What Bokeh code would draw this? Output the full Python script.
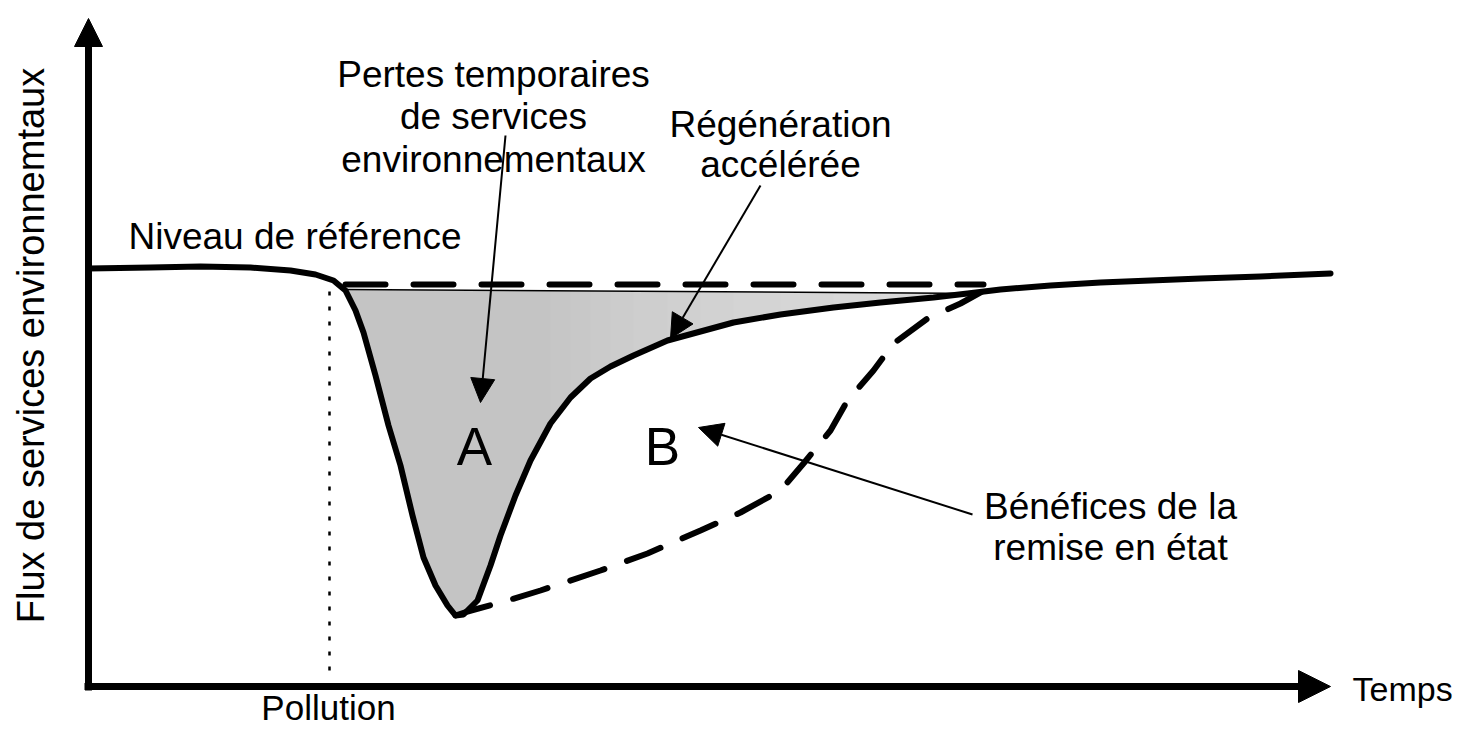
import numpy as np
from bokeh.plotting import figure
from bokeh.models import Range1d, Arrow, NormalHead, ColumnDataSource
from bokeh.core.properties import value
from bokeh.embed import file_html
from bokeh.resources import INLINE

# ---- data (time units, flow units) ----
# observed service flow (solid curve: pollution then accelerated regeneration)
flow_t = [0, 62, 112, 162, 202, 227, 245, 257, 267, 275, 287, 300, 312, 324, 335, 347,
          359, 367, 375, 389, 402, 412, 427, 442, 462, 482, 502, 522, 545, 579, 612,
          645, 692, 745, 792, 845, 879, 912, 962, 1012, 1062, 1112, 1172, 1242]
flow_v = [418, 419, 420, 419, 416, 412, 406, 396, 376, 354, 311, 261, 221, 171, 129, 101,
          81, 71, 72, 86, 121, 151, 191, 226, 263, 289, 308, 320, 331, 346, 355,
          364, 372, 379, 384, 389, 393, 397, 401, 404, 406, 408, 410, 413]

# natural recovery (dashed curve)
natural_t = [367, 379, 419, 452, 512, 559, 612, 652, 692, 715, 742, 759, 785, 805, 839, 872, 905]
natural_v = [71, 75, 86, 96, 116, 133, 156, 174, 196, 223, 256, 286, 316, 343, 368, 383, 401]

# reference level (baseline) and edge of area A
ref_t = [257, 895]
ref_v = [402, 402]
edge_v = [397, 393]

pollution_t = 241
axis_x_max = 1242
axis_y_max = 668

FONT = value("Liberation Sans")

p = figure(width=1460, height=731, x_range=Range1d(-88, 1372), y_range=Range1d(-45, 686),
           output_backend="svg", toolbar_location=None, min_border=0)
p.axis.visible = False
p.grid.visible = False
p.outline_line_color = None
p.background_fill_color = "white"

# area A (temporary losses) with a soft left-to-right shading
ft = np.array(flow_t, dtype=float)
fv = np.array(flow_v, dtype=float)


def area_poly(t_hi):
    m = (ft >= ref_t[0]) & (ft <= t_hi)
    e_hi = float(np.interp(t_hi, ref_t, edge_v))
    xs = [ref_t[0], t_hi] + list(ft[m][::-1])
    ys = [edge_v[0], e_hi] + list(fv[m][::-1])
    return xs, ys


bx, by = area_poly(ref_t[1])
p.patch(bx, by, fill_color="#dedede", line_color=None)
for t_hi in ft[(ft >= 462) & (ft <= 880)]:
    sx, sy = area_poly(float(t_hi))
    p.patch(sx, sy, fill_color="black", fill_alpha=0.008, line_color=None)
p.line(ref_t, edge_v, line_color="black", line_width=1.5)

# reference level dashed
p.line(ref_t, ref_v, line_color="black", line_width=6, line_dash="40 28", line_cap="round")

# natural recovery dashed
p.line(natural_t, natural_v, line_color="black", line_width=6, line_dash="36 24", line_cap="round")

# observed flow
p.line(flow_t, flow_v, line_color="black", line_width=6, line_join="round", line_cap="round")

# pollution marker
p.line([pollution_t, pollution_t], [16, 399], line_color="black", line_width=2.5, line_dash="4 11")

# axes with arrows
p.add_layout(Arrow(x_start=0, y_start=-4, x_end=0, y_end=axis_y_max, line_width=7,
                   end=NormalHead(size=28, fill_color="black", line_color="black")))
p.add_layout(Arrow(x_start=-4, y_start=0, x_end=axis_x_max, y_end=0, line_width=7,
                   end=NormalHead(size=32, fill_color="black", line_color="black")))

# annotation arrows
ann = [((417, 551), (392, 284)),
       ((672, 501), (582, 348)),
       ((884, 172), (610, 259))]
for (x0, y0), (x1, y1) in ann:
    p.add_layout(Arrow(x_start=x0, y_start=y0, x_end=x1, y_end=y1, line_width=2,
                       end=NormalHead(size=24, fill_color="black", line_color="black")))

# texts
labels = dict(
    x=[40, 405, 405, 405, 692, 692, 1022, 1022],
    y=[450, 612, 570, 527, 562, 522, 180, 139],
    text=["Niveau de référence", "Pertes temporaires", "de services", "environnementaux",
          "Régénération", "accélérée", "Bénéfices de la", "remise en état"],
    align=["left", "center", "center", "center", "center", "center", "center", "center"],
)
p.text(x="x", y="y", text="text", text_align="align", source=ColumnDataSource(labels),
       text_font=FONT, text_font_size="37px", text_baseline="middle", text_color="black")

p.text(x=[240], y=[-21], text=["Pollution"], text_font=FONT, text_font_size="35px",
       text_align="center", text_baseline="middle", text_color="black")

p.text(x=[1264], y=[-2], text=["Temps"], text_font=FONT, text_font_size="34px",
       text_align="left", text_baseline="middle", text_color="black")

p.text(x=[386, 574], y=[240, 240], text=["A", "B"], text_font=FONT, text_font_size="53px",
       text_align="center", text_baseline="middle", text_color="black")

p.text(x=[-58], y=[341], text=["Flux de services environnemtaux"], angle=np.pi / 2,
       text_font=FONT, text_font_size="38px", text_align="center", text_baseline="middle",
       text_color="black")

open("out.html", "w").write(file_html(p, INLINE))
